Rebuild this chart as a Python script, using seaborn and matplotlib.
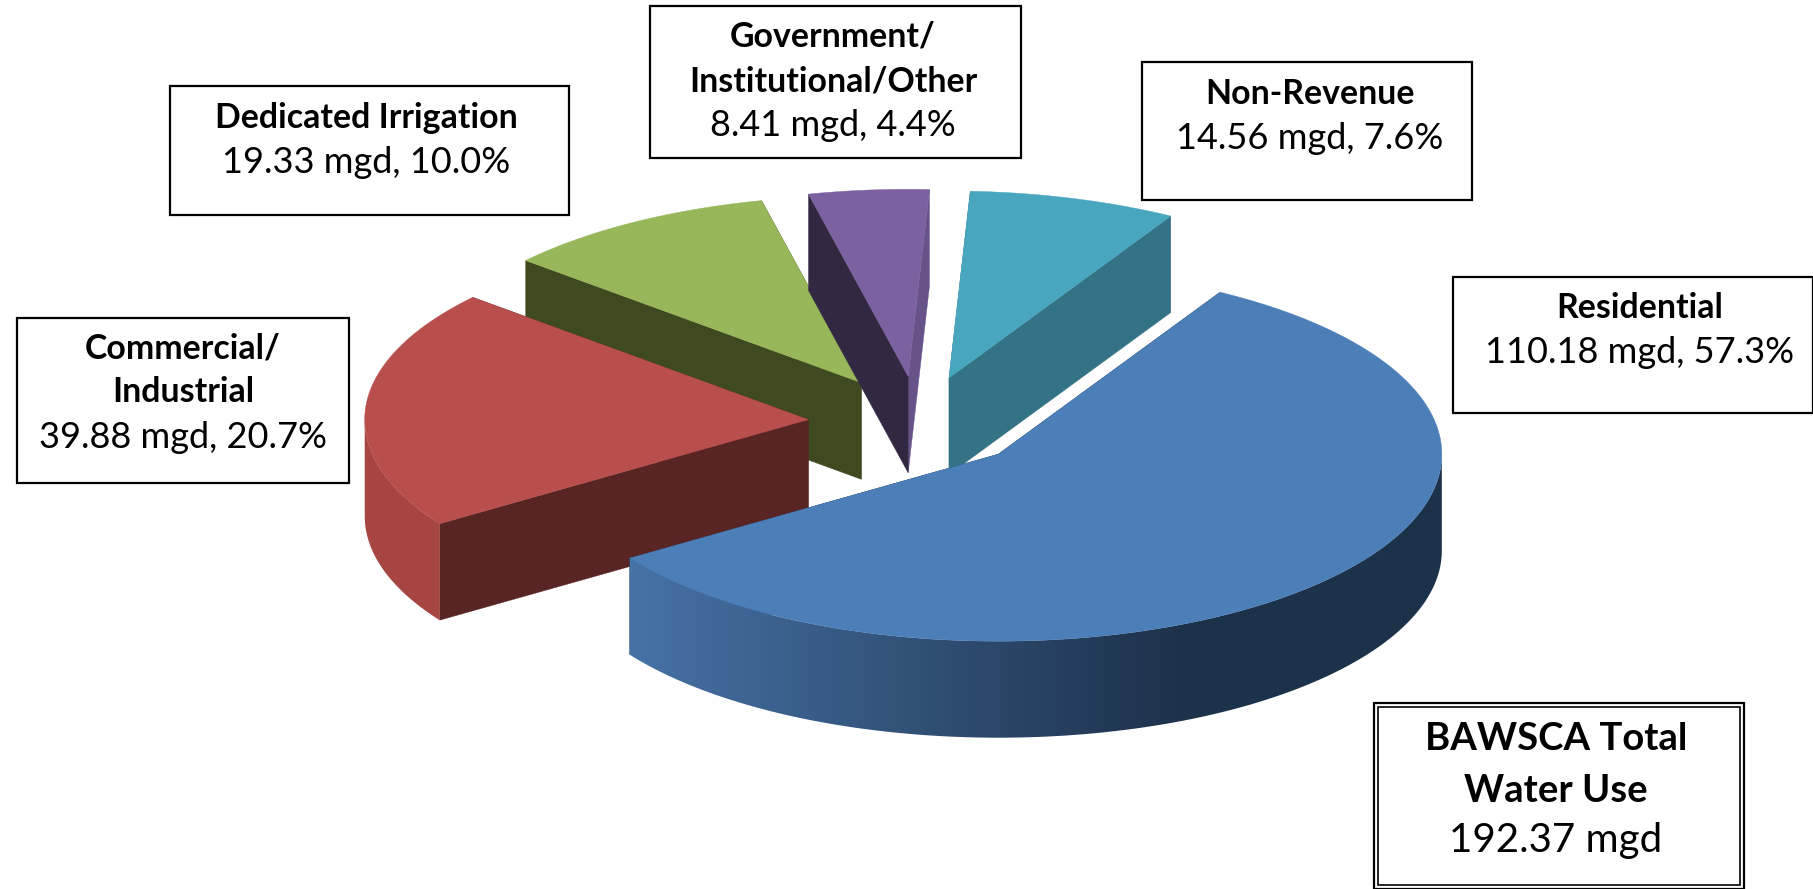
import numpy as np
import matplotlib
matplotlib.use("Agg")
import matplotlib.pyplot as plt
from matplotlib.colors import to_rgb
from matplotlib.patches import Polygon, Rectangle
import seaborn as sns

# Water use by customer sector
categories = ["Residential", "Commercial/\nIndustrial", "Dedicated Irrigation",
              "Government/\nInstitutional/Other", "Non-Revenue"]
mgd = [110.18, 39.88, 19.33, 8.41, 14.56]
percent = [57.3, 20.7, 10.0, 4.4, 7.6]
total_title = ["BAWSCA Total", "Water Use"]
total_mgd = 192.37

# Colours per sector: top face, cut faces, light and dark ends of the rim shading
top_colors = sns.color_palette(["#4C7EB8", "#B94F4C", "#98B75B", "#7C61A0", "#49A6BF"])
leading_cut = sns.color_palette(["#1E334E", "#582424", "#404A20", "#332842", "#347385"])
trailing_cut = sns.color_palette(["#1E334E", "#582424", "#404A20", "#67538A", "#347385"])
rim_light = ["#4672A6", "#A64542", "#88A450", "#6A5488", "#3F90A6"]
rim_dark = ["#1D314A", "#582424", "#404A20", "#332842", "#347385"]

# Pie geometry, in figure pixels
WIDTH, HEIGHT = 1813, 889
CX, CY = 918.0, 422.5
RX, RY = 443.5, 187.0
DEPTH = 96.5
EXPLODE = 0.248
START_ANGLE = 60.0
SHADE_FROM, SHADE_TO = 632.0, 1180.0

# Sector label boxes: left, top, right, bottom
boxes = [(1453, 277, 1813, 413), (17, 318, 349, 483), (170, 86, 569, 215),
         (650, 6, 1021, 158), (1142, 62, 1472, 200)]
# Text centre and height of the first line
text_pos = [(1640, 308), (183, 348), (366, 118), (833, 37), (1310, 94)]
total_box = (1374, 703, 1744, 889)
total_x = 1556
LINE = 44.5

sns.set_theme(style="white")
plt.rcParams["font.family"] = ["Lato", "DejaVu Sans"]

fig, ax = plt.subplots(figsize=(WIDTH / 100, HEIGHT / 100), dpi=100)
ax.set_position([0, 0, 1, 1])


def ring(cx, cy, angles):
    rad = np.radians(angles)
    return cx + RX * np.cos(rad), cy - RY * np.sin(rad)


def rim_gradient(i):
    """One row of colours across the figure; the rim darkens from left to right."""
    t = np.clip((np.arange(WIDTH) - SHADE_FROM) / (SHADE_TO - SHADE_FROM), 0, 1)[:, None]
    a, b = np.array(to_rgb(rim_light[i])), np.array(to_rgb(rim_dark[i]))
    return (a + (b - a) * t)[None, :, :]


# Wedge angles run clockwise from the start angle
shares = np.array(mgd) / np.sum(mgd) * 360.0
ends = START_ANGLE - np.cumsum(shares)
starts = ends + shares
mids = (starts + ends) / 2.0

# Painted back to front so nearer wedges overlap the farther ones
z = 1
for i in [2, 3, 4, 1, 0]:
    cx = CX + EXPLODE * RX * np.cos(np.radians(mids[i]))
    cy = CY - EXPLODE * RY * np.sin(np.radians(mids[i]))
    arc = np.linspace(starts[i], ends[i], 400)
    arc_x, arc_y = ring(cx, cy, arc)

    # Flat cut faces on both sides of the wedge
    for edge, shade in ((ends[i], trailing_cut[i]), (starts[i], leading_cut[i])):
        ex, ey = ring(cx, cy, edge)
        ax.fill([cx, ex, ex, cx], [cy, ey, ey + DEPTH, cy + DEPTH], color=shade, lw=0.3, zorder=z)

    # Curved outer rim: a horizontal gradient clipped to the front of the arc
    front = np.sin(np.radians(arc)) <= 0
    if front.any():
        fx, fy = arc_x[front], arc_y[front]
        outline = np.c_[np.r_[fx, fx[::-1]], np.r_[fy, fy[::-1] + DEPTH]]
        image = ax.imshow(rim_gradient(i), extent=(0, WIDTH, HEIGHT, 0), aspect="auto",
                          interpolation="nearest", zorder=z + 0.1)
        image.set_clip_path(Polygon(outline, closed=True, transform=ax.transData))

    # Top face
    ax.fill(np.r_[cx, arc_x], np.r_[cy, arc_y], color=top_colors[i], lw=0.3, zorder=z + 0.2)
    z += 1

ax.set_xlim(0, WIDTH)
ax.set_ylim(HEIGHT, 0)
ax.axis("off")

# Sector labels
for i, name in enumerate(categories):
    l, t, r, b = boxes[i]
    ax.add_patch(Rectangle((l, t), r - l, b - t, fc="white", ec="black", lw=1.6, zorder=10))
    x, y = text_pos[i]
    parts = name.split("\n")
    for k, part in enumerate(parts):
        ax.text(x, y + LINE * k, part, ha="center", va="center", fontsize=24.4,
                fontweight="bold", color="black", zorder=11)
    ax.text(x, y + LINE * len(parts), f"{mgd[i]:.2f} mgd, {percent[i]:.1f}%", ha="center",
            va="center", fontsize=26, color="black", zorder=11)

# Total box with a double border
l, t, r, b = total_box
ax.add_patch(Rectangle((l, t), r - l, b - t, fc="white", ec="black", lw=1.6, zorder=10))
ax.add_patch(Rectangle((l + 4, t + 4), r - l - 8, b - t - 8, fc="white", ec="black", lw=1.2, zorder=10))
for k, part in enumerate(total_title):
    ax.text(total_x, 739.5 + 51 * k, part, ha="center", va="center", fontsize=27.5,
            fontweight="bold", color="black", zorder=11)
ax.text(total_x, 840.5, f"{total_mgd:.2f} mgd", ha="center", va="center", fontsize=29,
        color="black", zorder=11)

fig.savefig("out.png", dpi=100, facecolor="white")
